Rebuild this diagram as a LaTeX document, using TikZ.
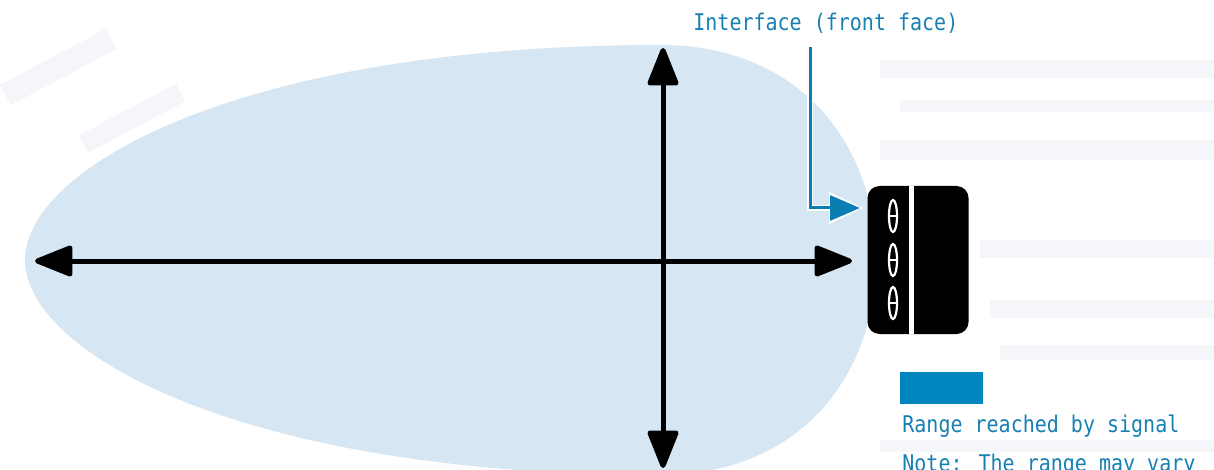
\documentclass[tikz,border=0pt]{standalone}
\usepackage{fontspec}
\newfontfamily\monofont{DejaVu Sans Mono}
\usetikzlibrary{arrows.meta,shapes.geometric}
\definecolor{blobfill}{HTML}{D6E7F3}
\definecolor{callblue}{HTML}{0A7DB3}
\definecolor{legblue}{HTML}{0086BF}
\definecolor{txtblue}{HTML}{1780B3}
\definecolor{streak}{HTML}{F4F6F9}
\newcommand{\tallmono}[1]{\scalebox{1}[1.15]{#1}}
\begin{document}
\begin{tikzpicture}[x=0.5pt,y=-0.5pt,
  axis/.style={line width=2.5pt,
    {Triangle[length=21pt,width=16pt,round]}-{Triangle[length=21pt,width=16pt,round]}},
  device/.style={fill=black, rounded corners=6pt, minimum width=50.5pt,
    minimum height=74pt, inner sep=0pt},
  sensor/.style={ellipse, draw=white, fill=black, line width=1.1pt,
    minimum width=4pt, minimum height=16pt, inner sep=0pt},
  lbl/.style={font=\monofont\fontsize{10}{12}\selectfont, text=txtblue, inner sep=0pt},
  legbox/.style={fill=legblue, minimum width=41.5pt, minimum height=16pt, inner sep=0pt},
  halo/.style={white, line width=2.8pt, -{Triangle[length=17pt,width=15.5pt]}},
  callout/.style={callblue, line width=1.5pt, -{Triangle[length=15pt,width=12.5pt]}}
]
\useasboundingbox (0,0) rectangle (1214,470);
\clip (0,0) rectangle (1214,470);
% faint background streaks
\fill[streak] (880,60) rectangle (1214,78);
\fill[streak] (900,100) rectangle (1214,112);
\fill[streak] (880,140) rectangle (1214,160);
\fill[streak] (980,240) rectangle (1214,258);
\fill[streak] (990,300) rectangle (1214,318);
\fill[streak] (1000,345) rectangle (1214,360);
\fill[streak] (880,440) rectangle (1214,452);
\fill[streak, rotate around={28:(60,70)}] (0,55) rectangle (120,78);
\fill[streak, rotate around={28:(110,130)}] (80,120) rectangle (190,140);
% signal range
\fill[blobfill] (25,260) .. controls (25,168) and (240,45) .. (660,45)
  .. controls (805,45) and (876,150) .. (876,260)
  .. controls (876,370) and (805,475) .. (660,475)
  .. controls (240,475) and (25,352) .. (25,260) -- cycle;
% axes
\coordinate (hl) at (35,261);
\coordinate (hr) at (852,261);
\coordinate (vt) at (663,48);
\coordinate (vb) at (663,468);
\draw[axis] (hl) -- (hr);
\draw[axis] (vt) -- (vb);
% device
\node[device] (dev) at (918,260) {};
\draw[white, line width=2.2pt] (911.5,186) -- (911.5,334);
\foreach \i/\y in {1/216,2/260,3/303}{
  \node[sensor] (s\i) at (893,\y) {};
  \draw[white, line width=1pt] ([xshift=0.6pt]s\i.west) -- ([xshift=-0.6pt]s\i.east);
}
% callout
\node[lbl, anchor=base west] (iface) at (693,31) {\tallmono{Interface (front face)}};
\coordinate (cstart) at (810,47);
\coordinate (ctipw) at (863,208);
\coordinate (ctip) at (860,208);
\draw[halo] (cstart) |- (ctipw);
\draw[callout] (cstart) |- (ctip);
% legend
\node[legbox] (leg) at (941.5,388) {};
\node[lbl, anchor=base west] (legtxt) at (902,432) {\tallmono{Range reached by signal}};
\node[lbl, anchor=base west] (note) at (902,471) {\tallmono{Note: The range may vary}};
\end{tikzpicture}
\end{document}
